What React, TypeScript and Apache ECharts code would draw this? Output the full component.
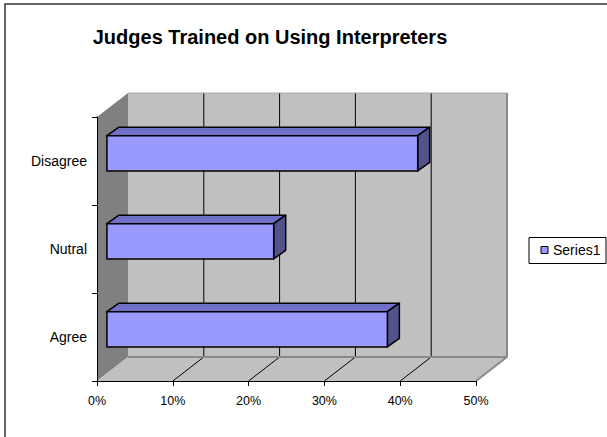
import { useEffect, useRef } from "react";
import * as echarts from "echarts";

const categories = ["Agree", "Nutral", "Disagree"];
const values = [37, 22, 41];
const xTicks = [0, 10, 20, 30, 40, 50];
const seriesName = "Series1";
const titleText = "Judges Trained on Using Interpreters";

const FONT = "'Liberation Sans', Arial, Helvetica, sans-serif";

// Oblique projection of the depth axis (pixels from the front plane to the back wall)
const DEPTH_X = 31;
const DEPTH_Y = -24;
// Where the bar's front face sits along the depth, and the bar's own depth
const BAR_FRONT = 0.32;
const BAR_DX = 12;
const BAR_DY = -8.5;
const BAR_THICKNESS = 0.4;

const BAR_FRONT_COLOR = "#9999ff";
const BAR_TOP_COLOR = "#7070c8";
const BAR_SIDE_COLOR = "#53538c";

export default function App() {
  const ref = useRef<HTMLDivElement>(null);

  useEffect(() => {
    document.body.style.margin = "0";
    if (!ref.current) return;
    const chart = echarts.init(ref.current, undefined, { renderer: "svg" });

    const wallsRender = (params: any, api: any) => {
      const cs = params.coordSys;
      const gx = cs.x;
      const gy = cs.y;
      const gw = cs.width;
      const gh = cs.height;
      const bx = gx + DEPTH_X;
      const by = gy + DEPTH_Y;
      const children: any[] = [];
      children.push({
        type: "rect",
        shape: { x: bx, y: by, width: gw, height: gh },
        style: { fill: "#c0c0c0" },
      });
      children.push({
        type: "polygon",
        shape: { points: [[gx, gy], [bx, by], [bx, by + gh], [gx, gy + gh]] },
        style: { fill: "#808080" },
      });
      children.push({
        type: "polygon",
        shape: {
          points: [[gx, gy + gh], [gx + gw, gy + gh], [bx + gw, by + gh], [bx, by + gh]],
        },
        style: { fill: "#c0c0c0" },
      });
      xTicks.slice(1, -1).forEach((t) => {
        const x = api.coord([t, 0])[0];
        children.push({
          type: "line",
          shape: { x1: x + DEPTH_X, y1: by, x2: x + DEPTH_X, y2: by + gh },
          style: { stroke: "#000", lineWidth: 1 },
        });
        children.push({
          type: "line",
          shape: { x1: x, y1: gy + gh, x2: x + DEPTH_X, y2: by + gh },
          style: { stroke: "#000", lineWidth: 1 },
        });
      });
      children.push({
        type: "line",
        shape: { x1: bx, y1: by, x2: bx + gw, y2: by },
        style: { stroke: "#a8a8a8", lineWidth: 1 },
      });
      children.push({
        type: "line",
        shape: { x1: bx + gw, y1: by, x2: bx + gw, y2: by + gh },
        style: { stroke: "#8a8a8a", lineWidth: 2 },
      });
      children.push({
        type: "line",
        shape: { x1: bx, y1: by + gh, x2: bx + gw, y2: by + gh },
        style: { stroke: "#8a8a8a", lineWidth: 2 },
      });
      children.push({
        type: "line",
        shape: { x1: gx + gw, y1: gy + gh, x2: bx + gw, y2: by + gh },
        style: { stroke: "#8a8a8a", lineWidth: 2 },
      });
      return { type: "group", children };
    };

    const barsRender = (_params: any, api: any) => {
      const v = api.value(0);
      const c = api.value(1);
      const p0 = api.coord([0, c]);
      const p1 = api.coord([v, c]);
      const band = api.size([0, 1])[1];
      const h = band * BAR_THICKNESS;
      const ox = BAR_FRONT * DEPTH_X;
      const oy = BAR_FRONT * DEPTH_Y;
      const x0 = p0[0] + ox;
      const x1 = p1[0] + ox;
      const yc = p0[1] + oy;
      const top = yc - h / 2;
      const bot = yc + h / 2;
      const edge = { stroke: "#000", lineWidth: 1.5, lineJoin: "round" };
      return {
        type: "group",
        children: [
          {
            type: "polygon",
            shape: {
              points: [[x0, top], [x1, top], [x1 + BAR_DX, top + BAR_DY], [x0 + BAR_DX, top + BAR_DY]],
            },
            style: { fill: BAR_TOP_COLOR, ...edge },
          },
          {
            type: "polygon",
            shape: {
              points: [[x1, top], [x1 + BAR_DX, top + BAR_DY], [x1 + BAR_DX, bot + BAR_DY], [x1, bot]],
            },
            style: { fill: BAR_SIDE_COLOR, ...edge },
          },
          {
            type: "rect",
            shape: { x: x0, y: top, width: x1 - x0, height: h },
            style: { fill: BAR_FRONT_COLOR, ...edge },
          },
        ],
      };
    };

    chart.setOption({
      animation: false,
      backgroundColor: "#ffffff",
      grid: { left: 97, top: 117, width: 379, height: 264, containLabel: false, outerBoundsMode: "none" },
      xAxis: {
        type: "value",
        min: 0,
        max: 50,
        interval: 10,
        z: 10,
        axisLine: { show: true, lineStyle: { color: "#000", width: 1 } },
        axisTick: { show: true, length: 5, lineStyle: { color: "#000" } },
        splitLine: { show: false },
        axisLabel: {
          formatter: "{value}%",
          margin: 13,
          color: "#000",
          fontSize: 12.5,
          fontFamily: FONT,
        },
      },
      yAxis: {
        type: "category",
        data: categories,
        z: 10,
        axisLine: { show: true, lineStyle: { color: "#000", width: 1 } },
        axisTick: { show: true, length: 5, lineStyle: { color: "#000" } },
        splitLine: { show: false },
        axisLabel: { margin: 10, color: "#000", fontSize: 14, fontFamily: FONT },
      },
      legend: {
        data: [{ name: seriesName, icon: "rect" }],
        left: 540.5,
        top: 243,
        padding: 0,
        itemWidth: 7,
        itemHeight: 7,
        itemStyle: { borderColor: "#000", borderWidth: 1 },
        textStyle: { color: "#000", fontSize: 14, fontFamily: FONT },
        selectedMode: false,
      },
      graphic: [
        {
          type: "rect",
          shape: { x: 5, y: 4, width: 620, height: 450 },
          style: { fill: "none", stroke: "#333", lineWidth: 1.5 },
          silent: true,
        },
        {
          type: "rect",
          shape: { x: 529, y: 237.5, width: 77, height: 26 },
          style: { fill: "none", stroke: "#000", lineWidth: 1 },
          silent: true,
        },
        {
          type: "text",
          x: 270,
          y: 37,
          style: {
            text: titleText,
            align: "center",
            verticalAlign: "middle",
            fontSize: 20,
            fontWeight: "bold",
            fontFamily: FONT,
            fill: "#000",
          },
          silent: true,
        },
      ],
      series: [
        {
          type: "custom",
          name: "walls",
          silent: true,
          z: 1,
          renderItem: wallsRender,
          data: [[0, 0]],
        },
        {
          type: "custom",
          name: seriesName,
          z: 20,
          itemStyle: { color: BAR_FRONT_COLOR, borderColor: "#000", borderWidth: 1 },
          renderItem: barsRender,
          data: values.map((v, i) => [v, i]),
        },
      ],
    });

    return () => chart.dispose();
  }, []);

  return <div ref={ref} style={{ width: 607, height: 437 }} />;
}
